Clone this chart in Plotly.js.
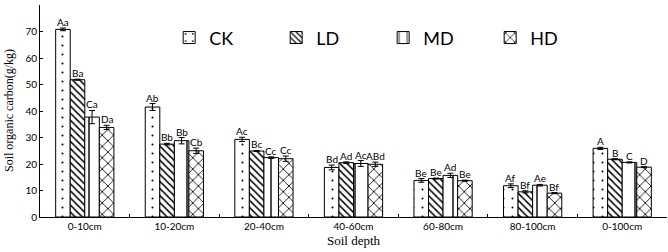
<!DOCTYPE html>
<html><head><meta charset="utf-8">
<script src="https://cdn.plot.ly/plotly-3.0.1.min.js"></script>
<style>body{margin:0;background:#fff}#c{width:668px;height:252px}</style>
</head><body><div id="c"></div>
<script>
const categories = ["0-10cm","10-20cm","20-40cm","40-60cm","60-80cm","80-100cm","0-100cm"];
const seriesNames = ["CK","LD","MD","HD"];
const CK = [70.8, 41.5, 29.3, 18.7, 13.8, 11.8, 25.9];
const LD = [51.8, 27.5, 24.9, 20.5, 14.5, 9.5, 21.8];
const MD = [37.7, 28.8, 22.4, 20.2, 15.7, 12.0, 20.6];
const HD = [33.8, 25.0, 22.0, 19.9, 13.7, 9.0, 18.8];
const CK_err = [0.5, 1.3, 0.8, 0.9, 0.7, 0.7, 0.4];
const LD_err = [0.2, 0.3, 0.2, 0.3, 0.2, 0.4, 0.2];
const MD_err = [2.5, 1.2, 0.3, 1.1, 0.8, 0.3, 0.2];
const HD_err = [0.8, 1.0, 1.0, 0.8, 0.2, 0.2, 0.2];
const CK_lbl = ["Aa","Ab","Ac","Bd","Be","Af","A"];
const LD_lbl = ["Ba","Bb","Bc","Ad","Be","Bf","B"];
const MD_lbl = ["Ca","Bb","Cc","Ac","Ad","Ae","C"];
const HD_lbl = ["Da","Cb","Cc","ABd","Be","Bf","D"];

const vals = [CK, LD, MD, HD];
const errs = [CK_err, LD_err, MD_err, HD_err];
const lbls = [CK_lbl, LD_lbl, MD_lbl, HD_lbl];
const patterns = [
  {shape:".", size:9, solidity:0.04},
  {shape:"\\", size:5, solidity:0.3},
  {shape:"|", size:14, solidity:0.1},
  {shape:"x", size:8, solidity:0.2}
];
const bargap = 0.35;
const plotW = 627;
const barPx = plotW / categories.length * (1 - bargap) / 4;

const traces = seriesNames.map((n, i) => ({
  type: "bar", name: n, x: categories, y: vals[i],
  marker: {color: "#fff", line: {color: "#000", width: 1},
    pattern: Object.assign({fgcolor: "#000", bgcolor: "#fff"}, patterns[i])},
  error_y: {type: "data", array: errs[i], visible: true, color: "#000", thickness: 1, width: 3}
}));

const annotations = [];
seriesNames.forEach((n, i) => {
  categories.forEach((c, j) => {
    annotations.push({x: c, y: vals[i][j] + errs[i][j], text: lbls[i][j], showarrow: false,
      xref: "x", yref: "y", yanchor: "bottom", xshift: (i - 1.5) * barPx, yshift: -2,
      font: {family: "Lato, 'Open Sans', sans-serif", size: 10, color: "#000"}});
  });
});
annotations.push({text: "Soil organic carbon(g/kg)", xref: "paper", yref: "paper", x: 0, y: 0.5,
  xanchor: "center", yanchor: "middle", xshift: -31, textangle: -90, showarrow: false,
  font: {family: "'Liberation Serif', serif", size: 12, color: "#000"}});

const layout = {
  width: 668, height: 252,
  margin: {l: 40, r: 1, t: 5, b: 35},
  paper_bgcolor: "#fff", plot_bgcolor: "#fff",
  barmode: "group", bargap: bargap, bargroupgap: 0,
  showlegend: true,
  legend: {orientation: "h", x: 0.206, y: 0.845, xanchor: "left", yanchor: "middle",
    entrywidth: 62, entrywidthmode: "pixels", bgcolor: "rgba(0,0,0,0)",
    font: {family: "Lato, 'Open Sans', sans-serif", size: 18, color: "#000"}},
  xaxis: {type: "category", showline: true, linecolor: "#000", linewidth: 1,
    ticks: "inside", ticklen: 3, tickcolor: "#000", tickson: "boundaries",
    tickfont: {family: "Lato, 'Open Sans', sans-serif", size: 10, color: "#000"},
    title: {text: "Soil depth", standoff: 4, font: {family: "'Liberation Serif', serif", size: 13, color: "#000"}}},
  yaxis: {range: [0, 80], dtick: 10, showline: true, linecolor: "#000", linewidth: 1,
    ticks: "inside", ticklen: 3, tickcolor: "#000", showgrid: false, zeroline: false,
    tickfont: {family: "Lato, 'Open Sans', sans-serif", size: 10, color: "#000"}},
  annotations: annotations
};
Plotly.newPlot("c", traces, layout, {staticPlot: true, displayModeBar: false});
</script></body></html>
